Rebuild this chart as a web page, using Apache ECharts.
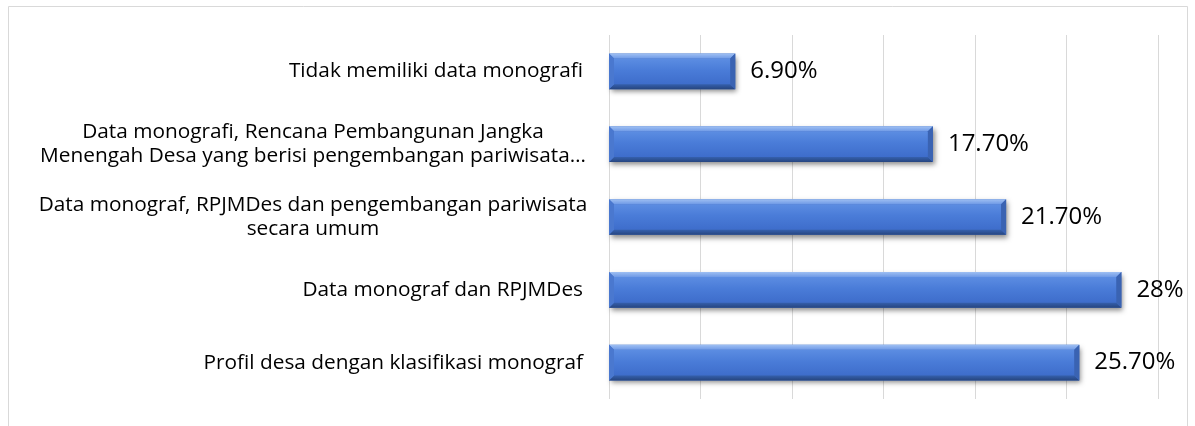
<!DOCTYPE html>
<html>
<head>
<meta charset="utf-8">
<script src="https://cdn.jsdelivr.net/npm/echarts@6/dist/echarts.min.js"></script>
<style>
  html, body { margin: 0; padding: 0; background: #fff; }
  #chart { width: 1195px; height: 426px; }
</style>
</head>
<body>
<div id="chart"></div>
<script>
// ---- data (top to bottom) ----
const categories = [
  'Tidak memiliki data monografi',
  'Data monografi, Rencana Pembangunan Jangka\nMenengah Desa yang berisi pengembangan pariwisata…',
  'Data monograf, RPJMDes dan pengembangan pariwisata\nsecara umum',
  'Data monograf dan RPJMDes',
  'Profil desa dengan klasifikasi monograf'
];
const values = [6.9, 17.7, 21.7, 28, 25.7];
const valueLabels = ['6.90%', '17.70%', '21.70%', '28%', '25.70%'];

const FONT = '"Open Sans", "Noto Sans", sans-serif';

const chart = echarts.init(document.getElementById('chart'), null, { renderer: 'canvas' });

function renderBar(params, api) {
  const idx = api.value(0);
  const val = api.value(1);
  const p0 = api.coord([0, idx]);
  const p1 = api.coord([val, idx]);
  const band = api.size([0, 1])[1];
  const h = band * 0.49;
  const x0 = p0[0], x1 = p1[0];
  const yt = p0[1] - h / 2, yb = p0[1] + h / 2;
  const b = 5;
  return {
    type: 'group',
    children: [
      { // body with shadow
        type: 'rect',
        shape: { x: x0, y: yt, width: x1 - x0, height: h },
        style: {
          fill: '#3f6cc2',
          shadowBlur: 5, shadowOffsetY: 3, shadowOffsetX: 2,
          shadowColor: 'rgba(0,0,0,0.45)'
        }
      },
      { // face
        type: 'rect',
        shape: { x: x0 + b, y: yt + b, width: x1 - x0 - 2 * b, height: h - 2 * b },
        style: {
          fill: new echarts.graphic.LinearGradient(0, 0, 0, 1, [
            { offset: 0, color: '#5c8de2' },
            { offset: 0.45, color: '#4a7cd8' },
            { offset: 1, color: '#3e6dcb' }
          ])
        }
      },
      { // top bevel
        type: 'polygon',
        shape: { points: [[x0, yt], [x1, yt], [x1 - b, yt + b], [x0 + b, yt + b]] },
        style: {
          fill: new echarts.graphic.LinearGradient(0, 0, 0, 1, [
            { offset: 0, color: '#9fc0f3' },
            { offset: 1, color: '#6f9ae6' }
          ])
        }
      },
      { // bottom bevel
        type: 'polygon',
        shape: { points: [[x0 + b, yb - b], [x1 - b, yb - b], [x1, yb], [x0, yb]] },
        style: {
          fill: new echarts.graphic.LinearGradient(0, 0, 0, 1, [
            { offset: 0, color: '#3560ad' },
            { offset: 1, color: '#26457f' }
          ])
        }
      },
      { // right bevel
        type: 'polygon',
        shape: { points: [[x1 - b, yt + b], [x1, yt], [x1, yb], [x1 - b, yb - b]] },
        style: { fill: '#3a63b2' }
      },
      { // left bevel
        type: 'polygon',
        shape: { points: [[x0, yt], [x0 + b, yt + b], [x0 + b, yb - b], [x0, yb]] },
        style: { fill: '#4a78cf' }
      },
      { // value label
        type: 'text',
        style: {
          text: valueLabels[idx],
          x: x1 + 15, y: p0[1],
          align: 'left', verticalAlign: 'middle',
          fontSize: 24, fontFamily: FONT, fill: '#000'
        }
      }
    ]
  };
}

const option = {
  animation: false,
  backgroundColor: '#fff',
  grid: { left: 609, right: 37, top: 35, bottom: 27, containLabel: false },
  graphic: [{
    type: 'rect',
    shape: { x: 8.5, y: 6.5, width: 1179, height: 500 },
    style: { fill: 'none', stroke: '#d9d9d9', lineWidth: 1 },
    silent: true, z: -10
  }],
  xAxis: {
    type: 'value', min: 0, max: 30, interval: 5,
    axisLabel: { show: false },
    axisLine: { show: false },
    axisTick: { show: false },
    splitLine: { show: true, lineStyle: { color: '#d9d9d9', width: 1 } }
  },
  yAxis: {
    type: 'category',
    data: categories,
    inverse: true,
    axisLine: { show: false },
    axisTick: { show: false },
    axisLabel: {
      margin: 26,
      fontSize: 20.8,
      fontFamily: FONT,
      color: '#000',
      lineHeight: 24,
      formatter: function (v) {
        if (v.indexOf('\n') < 0) return v;
        return v.split('\n').map(function (l) { return '{c|' + l + '}'; }).join('\n');
      },
      rich: {
        c: { width: 540, align: 'center', fontSize: 20.8, fontFamily: FONT, color: '#000', lineHeight: 24 }
      }
    }
  },
  series: [{
    type: 'custom',
    renderItem: renderBar,
    encode: { x: 1, y: 0 },
    data: values.map(function (v, i) { return [i, v]; }),
    clip: false
  }]
};
chart.setOption(option);
</script>
</body>
</html>
